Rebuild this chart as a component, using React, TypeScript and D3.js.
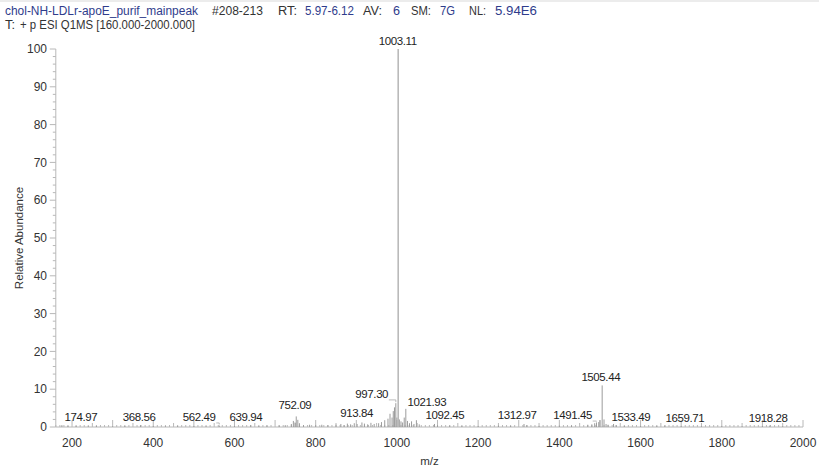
import React from "react";
import * as d3 from "d3";

// ---- data ----
const labeledMz = [174.97, 368.56, 562.49, 639.94, 752.09, 913.84, 997.30, 1003.11, 1021.93, 1092.45, 1312.97, 1491.45, 1505.44, 1533.49, 1659.71, 1918.28];
const labeledAbund = [0.5, 0.5, 0.4, 0.5, 2.8, 1.2, 6.3, 100, 4.8, 0.8, 0.8, 1.2, 11, 0.8, 0.4, 0.4];
// where each annotation sits (m/z, relative abundance of its baseline)
const labelMz = [222, 365, 513, 628, 749, 901, 938, 1002, 1074, 1118, 1296, 1433, 1502, 1576, 1709, 1914];
const labelLevel = [1.6, 1.6, 1.6, 1.6, 4.8, 2.6, 7.7, 101, 5.6, 2.1, 2.1, 2.1, 12.2, 1.6, 1.3, 1.3];

const minorMz = [
  190, 210, 240, 260, 300, 330, 400, 430, 460, 500, 530, 600, 660, 680,
  710, 725, 740, 745, 749, 756, 760, 770, 785, 800, 815, 830,
  850, 862, 870, 878, 886, 895, 902, 920, 928, 936, 944,
  955, 962, 970, 978, 983, 988, 991, 994, 1000, 1006, 1010, 1014, 1018, 1026, 1031, 1036, 1042, 1048, 1055,
  1100, 1130, 1160, 1200, 1250, 1280, 1320, 1350, 1400, 1430,
  1470, 1480, 1487, 1497, 1500, 1510, 1515, 1520, 1540,
  1560, 1600, 1640, 1700, 1750, 1800, 1850, 1900, 1950,
];
const minorAbund = [
  0.3, 0.3, 0.2, 0.3, 0.2, 0.3, 0.3, 0.2, 0.3, 0.3, 0.2, 0.3, 0.3, 0.4,
  0.4, 0.5, 0.8, 1.6, 1.2, 1.9, 1.0, 0.5, 0.6, 0.5, 0.6, 0.5,
  0.6, 0.8, 0.5, 0.9, 0.7, 1.0, 0.8, 0.9, 0.7, 1.1, 0.8,
  1.0, 1.3, 1.8, 2.2, 3.5, 2.5, 4.2, 5.2, 2.5, 2.0, 1.5, 1.2, 2.5, 1.6, 1.0, 1.5, 0.8, 1.8, 0.7,
  0.5, 0.4, 0.3, 0.3, 0.4, 0.3, 0.5, 0.3, 0.4, 0.4,
  0.6, 0.7, 1.0, 1.3, 1.8, 2.0, 0.8, 0.6, 0.5,
  0.3, 0.3, 0.3, 0.3, 0.2, 0.3, 0.2, 0.3, 0.2,
];

const xTickValues = [200, 400, 600, 800, 1000, 1200, 1400, 1600, 1800, 2000];
const yTickValues = [0, 10, 20, 30, 40, 50, 60, 70, 80, 90, 100];

const headerLine1 = [
  { t: "chol-NH-LDLr-apoE_purif_mainpeak", x: 5, w: 193, blue: true },
  { t: "#208-213", x: 212, w: 51, blue: false },
  { t: "RT:", x: 278, w: 19, blue: false },
  { t: "5.97-6.12", x: 305, w: 49, blue: true },
  { t: "AV:", x: 363, w: 19, blue: false },
  { t: "6", x: 393, w: 7, blue: true },
  { t: "SM:", x: 411, w: 20, blue: false },
  { t: "7G", x: 440, w: 15, blue: true },
  { t: "NL:", x: 469, w: 17, blue: false },
  { t: "5.94E6", x: 495, w: 42, blue: true },
];
const headerLine2 = [
  { t: "T:", x: 5, w: 10, blue: false },
  { t: "+ p ESI Q1MS [160.000-2000.000]", x: 20, w: 175, blue: false },
];

const W = 819;
const H = 468;
const FONT = "'Liberation Sans', Arial, sans-serif";
const BLUE = "#2f3c8c";
const DARK = "#333";
const AXIS = "#b8b8b8";
const PEAK = "#9c9c9c";

export default function App() {
  const x = d3.scaleLinear().domain([160, 2000]).range([55.8, 803]);
  const y = d3.scaleLinear().domain([0, 100]).range([427, 49]);

  const xMinor = d3.range(160, 2001, 10);
  const yMinor = d3.range(0, 101, 2);

  const peaks = [
    ...minorMz.map((m, i) => ({ mz: m, a: minorAbund[i] })),
    ...labeledMz.map((m, i) => ({ mz: m, a: labeledAbund[i] })),
  ];

  const header = (segs: typeof headerLine1, yy: number) =>
    segs.map((s, i) => (
      <text
        key={yy + "-" + i}
        x={s.x}
        y={yy}
        fontSize={12.5}
        fill={s.blue ? BLUE : DARK}
        textLength={s.w}
        lengthAdjust="spacingAndGlyphs"
      >
        {s.t}
      </text>
    ));

  return (
    <svg
      width={W}
      height={H}
      style={{ position: "absolute", left: 0, top: 0, background: "#fff" }}
      fontFamily={FONT}
    >
      <rect x={0} y={0} width={W} height={2} fill="#ececec" />
      {header(headerLine1, 15)}
      {header(headerLine2, 29)}

      {/* y axis */}
      <line x1={x(160)} x2={x(160)} y1={y(0)} y2={y(100)} stroke={AXIS} />
      {yMinor.map((v) => (
        <line
          key={"ym" + v}
          x1={x(160) - (v % 10 === 0 ? 6 : 3)}
          x2={x(160)}
          y1={y(v)}
          y2={y(v)}
          stroke={AXIS}
        />
      ))}
      {yTickValues.map((v) => (
        <text
          key={"yt" + v}
          x={47}
          y={y(v)}
          dy="0.35em"
          textAnchor="end"
          fontSize={12}
          fill={DARK}
        >
          {v}
        </text>
      ))}
      <text
        transform={`translate(19,${(y(0) + y(100)) / 2}) rotate(-90)`}
        textAnchor="middle"
        dy="0.35em"
        fontSize={11.5}
        fill={DARK}
      >
        Relative Abundance
      </text>

      {/* x axis */}
      <line x1={x(160)} x2={x(2000)} y1={y(0)} y2={y(0)} stroke={AXIS} />
      {xMinor.map((v) => (
        <line
          key={"xm" + v}
          x1={x(v)}
          x2={x(v)}
          y1={y(0)}
          y2={y(0) - (v % 100 === 0 ? 7 : v % 50 === 0 ? 4 : 2)}
          stroke={AXIS}
        />
      ))}
      {xTickValues.map((v) => (
        <text
          key={"xt" + v}
          x={x(v)}
          y={447}
          textAnchor="middle"
          fontSize={12}
          fill={DARK}
        >
          {v}
        </text>
      ))}
      <text x={(x(160) + x(2000)) / 2} y={465} textAnchor="middle" fontSize={11.5} fill={DARK}>
        m/z
      </text>

      {/* spectrum */}
      {peaks.map((p, i) => (
        <line
          key={"p" + i}
          x1={x(p.mz)}
          x2={x(p.mz)}
          y1={y(0)}
          y2={y(p.a)}
          stroke={p.a > 50 ? "#b0b0b0" : PEAK}
          strokeWidth={p.a > 50 ? 1.4 : 1}
        />
      ))}

      {/* annotations */}
      {labeledMz.map((m, i) => {
        const txt = m.toFixed(2);
        const cx = x(labelMz[i]);
        const by = y(labelLevel[i]);
        const half = txt.length * 2.85;
        const px = x(m);
        const py = y(labeledAbund[i]);
        let leader = null;
        if (px > cx + half + 2 || px < cx - half - 2) {
          const ex = px > cx ? cx + half : cx - half;
          leader = (
            <polyline
              points={`${ex},${by + 2} ${px},${by + 2} ${px},${Math.min(py - 1, y(0))}`}
              fill="none"
              stroke="#aaa"
              strokeWidth={0.8}
            />
          );
        }
        return (
          <g key={"l" + i}>
            {leader}
            <text
              x={cx}
              y={by}
              textAnchor="middle"
              fontSize={11.5}
              letterSpacing={-0.4}
              fill="#222"
            >
              {txt}
            </text>
          </g>
        );
      })}
    </svg>
  );
}
